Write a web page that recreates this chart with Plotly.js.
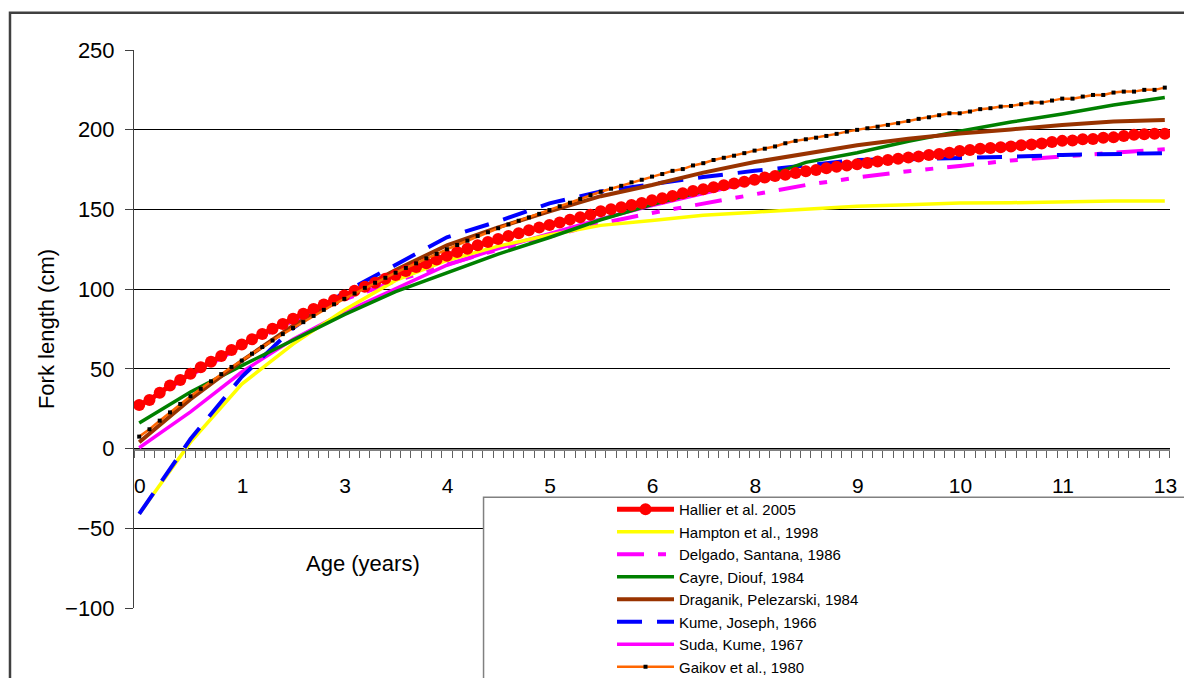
<!DOCTYPE html>
<html><head><meta charset="utf-8">
<script src="https://cdn.plot.ly/plotly-3.0.1.min.js"></script>
<style>html,body{margin:0;padding:0;background:#fff}#chart{width:1184px;height:678px}</style>
</head><body><div id="chart"></div>
<script>
// Category axis: 101 age classes, labels every 10th class
const nCat = 101;
const ageStep = 0.13;
const ages = Array.from({length: nCat}, (_, i) => +(i * ageStep).toFixed(2));
const ages5 = ages.filter((_, i) => i % 5 === 0);
const tickLabels = ["0", "1", "3", "4", "5", "6", "8", "9", "10", "11", "13"];
// category boundaries carry the tick marks; the label of class i is hung on its left edge
// (two leading no-break spaces move the visible digits half a class to the right)
const classEdges = ages.map(a => +(a - ageStep / 2).toFixed(3)).concat([+(ages[nCat - 1] + ageStep / 2).toFixed(3)]);
const edgeText = classEdges.map((_, i) => (i % 10 === 0 && i / 10 < tickLabels.length) ? "\u00A0\u00A0" + tickLabels[i / 10] : "");

const seriesNames = [
  "Hallier et al. 2005", "Hampton et al., 1998", "Delgado, Santana, 1986",
  "Cayre, Diouf, 1984", "Draganik, Pelezarski, 1984", "Kume, Joseph, 1966",
  "Suda, Kume, 1967", "Gaikov et al., 1980"
];

// Fork length (cm), one value per age class
const hallier = [
  27.3, 30.5, 35.0, 39.5, 43.0, 47.0, 51.0, 54.5, 58.0, 61.8,
  65.3, 68.6, 71.9, 75.2, 78.2, 81.4, 84.6, 87.5, 90.4, 93.2,
  96.0, 99.0, 101.5, 104.0, 106.5, 108.9, 111.4, 113.9, 116.3, 118.6,
  121.0, 123.3, 125.3, 127.5, 129.5, 131.5, 133.3, 135.1, 137.0, 138.6,
  140.3, 141.8, 143.6, 145.1, 146.6, 148.8, 150.1, 151.4, 152.8, 154.0,
  155.8, 157.0, 158.5, 160.1, 161.5, 162.7, 163.9, 165.2, 166.2, 167.4,
  168.6, 170.0, 171.0, 171.8, 172.8, 174.0, 174.8, 175.8, 176.7, 177.5,
  178.4, 179.1, 180.0, 181.0, 181.8, 182.5, 183.2, 184.1, 184.8, 185.6,
  186.6, 187.3, 188.0, 188.5, 189.0, 189.5, 190.3, 190.7, 191.3, 192.3,
  193.0, 193.2, 194.0, 194.2, 195.0, 195.2, 196.0, 196.8, 197.2, 197.4,
  197.4
];
const gaikov = [
  7.5, 12.1, 17.5, 22.7, 28.0, 32.8, 37.5, 42.2, 46.7, 51.2,
  55.2, 59.5, 63.7, 67.8, 71.8, 75.6, 79.3, 83.2, 87.0, 90.5,
  93.9, 97.3, 100.8, 104.0, 107.1, 110.3, 113.3, 116.2, 119.3, 122.1,
  125.0, 127.7, 130.4, 133.3, 135.7, 138.2, 140.6, 142.9, 145.0, 147.2,
  149.6, 152.0, 154.2, 156.6, 159.0, 161.1, 163.0, 164.8, 167.0, 168.6,
  170.6, 172.2, 174.2, 175.3, 177.6, 179.0, 181.0, 182.4, 183.7, 185.3,
  186.9, 188.1, 189.5, 191.5, 193.0, 194.0, 195.0, 196.1, 197.4, 198.8,
  199.9, 200.9, 201.9, 203.0, 204.1, 205.5, 206.8, 207.8, 209.1, 210.3,
  210.3, 211.4, 212.9, 213.5, 214.5, 214.9, 216.0, 217.0, 217.0, 218.3,
  219.5, 219.5, 220.8, 221.8, 221.8, 223.3, 223.9, 223.9, 225.0, 225.0,
  226.4
];
// Fork length (cm), every 5th age class
const hampton  = [-41, 4, 40.5, 65.5, 87, 105.5, 118, 127, 134, 140, 143, 146.3, 148.3, 150.4, 152, 153, 154, 154.2, 155, 155.3, 155.3];
const delgado  = [27, 46, 64, 80, 93.5, 105, 115.5, 124.8, 132.9, 141.2, 147.8, 153.5, 159.5, 165.3, 170, 174, 177.3, 180.7, 183.2, 185.5, 187.8];
const cayre    = [16, 35.5, 52, 68, 84, 98.5, 110.2, 122, 132.4, 143.5, 153, 161.3, 168.2, 179.5, 185.5, 192.8, 199, 204.8, 209.8, 215.5, 220.2];
const draganik = [4, 31, 55, 77, 95, 112, 127.5, 138.7, 148.8, 158.3, 165.3, 173.1, 179.7, 185.3, 190.3, 194.3, 197.6, 200.2, 203, 205.1, 206.1];
const kume     = [-41, 6, 45, 75.5, 98, 115.5, 132.5, 142.5, 153.8, 161.3, 166, 170.3, 174.2, 177.5, 181, 181.5, 182, 183, 184.2, 184.7, 185.3];
const suda     = [0.5, 23, 48, 68.5, 85.5, 100.5, 115, 125.5, 135, 144, 152.5, 160, 167.5, 173.5, 178.8, 183.5, 187.5, 190.8, 193.5, 196, 198];

const FONT = "Liberation Sans, Arial, sans-serif";

const traces = [
  {name: seriesNames[6], x: ages5, y: suda, mode: "lines", legendrank: 7,
   line: {color: "#FF00FF", width: 3.5}},
  {name: seriesNames[2], x: ages5, y: delgado, mode: "lines", legendrank: 3,
   line: {color: "#FF00FF", width: 4, dash: "27px,14px,8px,14px,8px,14px"}},
  {name: seriesNames[1], x: ages5, y: hampton, mode: "lines", legendrank: 2,
   line: {color: "#FFFF00", width: 3.5}},
  {name: seriesNames[5], x: ages5, y: kume, mode: "lines", legendrank: 6,
   line: {color: "#0000FF", width: 4, dash: "25px,15px"}},
  {name: seriesNames[3], x: ages5, y: cayre, mode: "lines", legendrank: 4,
   line: {color: "#008000", width: 3.5}},
  {name: seriesNames[4], x: ages5, y: draganik, mode: "lines", legendrank: 5,
   line: {color: "#993300", width: 4}},
  {name: seriesNames[0], x: ages, y: hallier, mode: "lines+markers", legendrank: 1,
   line: {color: "#FF0000", width: 5}, marker: {color: "#FF0000", size: 12, symbol: "circle"}},
  {name: seriesNames[7], x: ages, y: gaikov, mode: "lines+markers", legendrank: 8,
   line: {color: "#FF6600", width: 2.5}, marker: {color: "#000000", size: 4, symbol: "square"}},
  // empty helper trace so the subplot whose lower edge is fork length 0 exists (the category axis crosses there)
  {x: [null], y: [null], xaxis: "x", yaxis: "y2", mode: "lines", showlegend: false, hoverinfo: "skip"}
];

const layout = {
  width: 1184, height: 678,
  margin: {l: 134, r: 14, t: 50, b: 70, autoexpand: false},
  paper_bgcolor: "#ffffff", plot_bgcolor: "rgba(0,0,0,0)",
  font: {family: FONT, color: "#000000", size: 21},
  showlegend: true,
  xaxis: {
    range: [-0.066, 13.066],
    anchor: "y2",
    tickmode: "array", tickvals: classEdges, ticktext: edgeText,
    ticks: "outside", ticklen: 7, tickcolor: "#606060", tickwidth: 1,
    ticklabelstandoff: 10,
    tickfont: {size: 21, family: FONT},
    showgrid: false, zeroline: false,
    showline: true, linecolor: "#808080", linewidth: 2
  },
  yaxis2: {domain: [100 / 350, 1], range: [0, 1], visible: false, anchor: "x",
           showgrid: false, zeroline: false},
  yaxis: {
    range: [-100, 250], dtick: 50, tick0: 0,
    ticks: "outside", ticklen: 8, tickcolor: "#404040", tickwidth: 1,
    ticklabelstandoff: 6,
    tickfont: {size: 22, family: FONT},
    showgrid: true, gridcolor: "#000000", gridwidth: 1,
    zeroline: false,
    showline: true, linecolor: "#404040", linewidth: 1,
    title: {text: "Fork length (cm)", font: {size: 22, family: FONT}, standoff: 4}
  },
  legend: {
    x: 0.4614, y: 0.2061, xanchor: "left", yanchor: "top",
    bgcolor: "rgba(0,0,0,0)", borderwidth: 0,
    font: {size: 15, family: FONT, color: "#000"},
    itemwidth: 57, tracegroupgap: 0
  },
  shapes: [
    {type: "rect", xref: "paper", yref: "paper", layer: "below",
     x0: -0.1197, x1: 1.3, y0: -0.4, y1: 1.0668,
     line: {color: "#404040", width: 2.5}, fillcolor: "rgba(0,0,0,0)"},
    {type: "rect", xref: "paper", yref: "paper", layer: "above",
     x0: 0.3374, x1: 1.3, y0: -0.4, y1: 0.1984,
     line: {color: "#808080", width: 1.5}, fillcolor: "#ffffff"}
  ],
  annotations: [
    {text: "Age (years)", xref: "paper", yref: "paper", x: 0.221, y: 0.0806,
     xanchor: "center", yanchor: "middle", showarrow: false,
     font: {size: 22, family: FONT, color: "#000"}}
  ]
};

Plotly.newPlot("chart", traces, layout, {displayModeBar: false, staticPlot: true});
</script></body></html>
